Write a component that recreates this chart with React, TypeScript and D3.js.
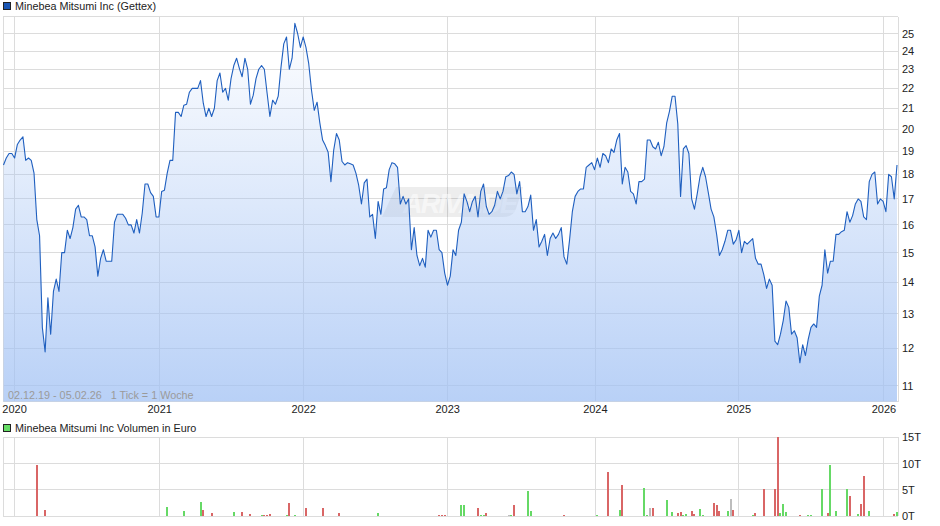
import { useEffect, useRef } from 'react'
import * as d3 from 'd3'

const priceTicks = [11, 12, 13, 14, 15, 16, 17, 18, 19, 20, 21, 22, 23, 24, 25]
const volumeTicks = [0, 5, 10, 15]
const yearLabels = ['2020', '2021', '2022', '2023', '2024', '2025', '2026']
// week index of each 1 January, counted from the first tick
const yearWeeks = [4, 56.3, 108.2, 160.1, 213.3, 265, 317.3]

// weekly closes, 02.12.19 - 05.02.26
const prices = [
  18.4, 18.7, 18.9, 18.9, 18.7, 19.3, 19.5, 19.65, 18.6, 18.7, 18.6, 18.05, 16.2, 15.6, 12.6, 11.9, 13.5, 12.4, 13.7, 14.1,
  13.7, 15.0, 15.0, 15.8, 15.5, 15.9, 16.6, 16.75, 16.3, 16.3, 16.2, 15.6, 15.6, 15.2, 14.2, 14.8, 15.1, 14.7, 14.7, 14.7,
  16.1, 16.4, 16.4, 16.4, 16.25, 16.0, 16.0, 15.7, 16.2, 15.7, 16.45, 17.6, 17.6, 17.25, 17.1, 16.3, 16.3, 17.3, 17.35, 18.05,
  18.6, 18.6, 20.8, 20.8, 20.6, 21.15, 21.2, 21.8, 22.0, 22.0, 22.0, 22.4, 21.25, 20.6, 21.0, 20.6, 21.0, 22.4, 22.8, 21.8,
  22.0, 21.4, 22.5, 23.2, 23.6, 23.05, 22.6, 23.6, 23.0, 21.2, 21.65, 22.5, 23.0, 23.2, 23.0, 21.75, 20.6, 21.4, 21.2, 21.6,
  23.1, 24.4, 24.8, 23.0, 23.6, 25.6, 25.0, 24.2, 24.8, 24.2, 23.3, 21.9, 20.9, 21.3, 20.3, 19.5, 19.25, 18.95, 17.7, 19.05,
  19.8, 19.5, 18.55, 18.4, 18.5, 18.45, 18.4, 18.05, 17.55, 16.8, 17.65, 17.8, 16.3, 16.4, 15.5, 16.9, 16.4, 17.4, 17.45, 18.2,
  18.5, 18.45, 18.3, 16.8, 17.1, 16.8, 17.0, 15.1, 15.9, 14.9, 14.55, 14.8, 14.5, 15.8, 15.55, 15.8, 15.8, 15.1, 15.0, 14.3,
  13.9, 14.2, 15.1, 14.9, 15.8, 16.1, 17.2, 16.9, 16.5, 16.9, 17.1, 16.3, 17.3, 17.6, 16.7, 16.4, 16.5, 16.75, 17.3, 17.0,
  17.3, 17.9, 17.95, 18.1, 18.0, 17.2, 17.7, 16.5, 16.5, 16.7, 17.15, 15.8, 16.2, 15.2, 15.4, 15.65, 14.9, 15.5, 15.7, 15.5,
  15.65, 15.9, 14.85, 14.6, 15.45, 16.5, 17.1, 17.3, 17.4, 17.4, 18.3, 18.4, 18.5, 18.2, 18.7, 18.3, 18.9, 18.8, 18.5, 19.1,
  18.95, 19.5, 19.8, 17.6, 18.3, 18.1, 17.3, 17.2, 16.8, 17.7, 17.7, 17.8, 19.5, 19.5, 19.2, 19.1, 19.4, 18.8, 19.2, 20.3,
  20.85, 21.6, 21.6, 20.25, 17.1, 19.1, 19.25, 18.9, 17.0, 16.6, 17.2, 17.9, 18.3, 17.9, 17.25, 16.6, 16.3, 15.65, 14.9, 15.1,
  15.4, 15.8, 15.8, 15.3, 15.45, 15.8, 15.0, 15.4, 15.3, 15.4, 15.5, 14.8, 14.6, 14.6, 14.25, 13.8, 14.1, 13.9, 12.2, 12.1,
  12.4, 12.8, 13.4, 13.2, 12.4, 12.5, 12.3, 11.6, 12.1, 11.8, 12.25, 12.6, 12.7, 12.6, 13.55, 13.9, 15.1, 14.3, 14.7, 14.7,
  15.65, 15.65, 15.75, 15.8, 16.5, 16.1, 16.35, 16.8, 17.0, 16.9, 16.3, 16.2, 17.7, 18.0, 18.1, 16.8, 17.0, 16.9, 16.5, 18.0,
  17.9, 17.0, 18.4,
]

// volume in thousand euro, only the weeks that traded
const upWeeks = [59, 65, 71, 83, 93, 102, 105, 135, 140, 162, 165, 166, 172, 173, 183, 189, 190, 197, 198, 206, 207, 211, 214, 222, 229, 231, 232, 239, 241, 245, 246, 250, 251, 252, 261, 267, 270, 276, 280, 281, 282, 290, 291, 294, 295, 296, 298, 300, 304, 308, 312, 313, 322]
const upVolumes = [1.8, 1.0, 2.7, 0.8, 0.25, 0.25, 0.25, 0.6, 0.1, 0.1, 2.15, 2.15, 0.25, 0.25, 0.25, 4.8, 1.0, 0.1, 0.1, 0.1, 0.1, 0.1, 0.25, 1.2, 0.1, 5.4, 0.25, 3.1, 0.8, 0.25, 0.45, 0.1, 1.4, 0.25, 1.0, 0.1, 0.25, 0.1, 0.6, 2.3, 0.8, 0.25, 0.25, 0.1, 5.2, 0.1, 9.75, 1.0, 5.2, 0.45, 1.0, 0.1, 0.8]
const downWeeks = [12, 15, 72, 75, 86, 89, 94, 95, 96, 103, 109, 115, 121, 142, 150, 157, 158, 159, 171, 174, 175, 184, 202, 213, 218, 223, 234, 243, 244, 248, 249, 255, 256, 257, 258, 263, 266, 271, 274, 278, 279, 286, 287, 297, 305, 309, 310, 311, 318, 320, 321]
const downVolumes = [9.75, 1.2, 1.2, 0.6, 0.8, 0.45, 0.25, 0.25, 0.45, 2.5, 1.6, 1.6, 0.6, 0.1, 0.1, 0.25, 0.25, 0.25, 1.6, 0.6, 0.1, 2.15, 0.25, 0.1, 8.4, 5.95, 1.6, 0.6, 0.8, 1.0, 0.45, 0.1, 2.5, 2.15, 1.0, 1.2, 0.1, 0.6, 5.2, 5.2, 15, 0.1, 0.25, 0.6, 3.85, 2.35, 7.65, 0.1, 0.1, 0.1, 0.45]
const flatWeeks = [182, 233, 262]
const flatVolumes = [0.25, 1.6, 3.3]

const font = '"Liberation Sans", Arial, sans-serif'
const gridColor = '#dcdcdc'

export default function App() {
  const ref = useRef<SVGSVGElement>(null)

  useEffect(() => {
    if (!ref.current) return
    const svg = d3.select(ref.current)
    svg.selectAll('*').remove()

    const left = 3
    const right = 898
    const x = d3.scaleLinear().domain([0, prices.length - 1]).range([3.5, 897])
    const y = d3.scaleLog().domain([11, 25]).range([385.6, 33.5])
    const yV = d3.scaleLinear().domain([0, 15]).range([516.3, 437.3])
    const top = 16.5
    const bottom = 401.5

    const defs = svg.append('defs')
    const grad = defs.append('linearGradient')
      .attr('id', 'areaFill').attr('gradientUnits', 'userSpaceOnUse')
      .attr('x1', 0).attr('x2', 0).attr('y1', top).attr('y2', bottom)
    grad.append('stop').attr('offset', 0).attr('stop-color', '#a1c1f4').attr('stop-opacity', 0)
    grad.append('stop').attr('offset', 1).attr('stop-color', '#a1c1f4').attr('stop-opacity', 0.75)

    // title rows
    const legend = (ty: number, color: string, label: string) => {
      svg.append('rect').attr('x', 3.5).attr('y', ty - 4).attr('width', 7).attr('height', 7)
        .attr('fill', color).attr('stroke', '#222')
      svg.append('text').attr('x', 15).attr('y', ty + 3).attr('font-size', 10.8).attr('font-family', font)
        .attr('fill', '#222').text(label)
    }
    legend(6.5, '#1a56b4', 'Minebea Mitsumi Inc (Gettex)')
    legend(428.5, '#66dd66', 'Minebea Mitsumi Inc Volumen in Euro')

    // price grid
    const grid = svg.append('g').attr('stroke', gridColor).attr('fill', 'none').attr('shape-rendering', 'crispEdges')
    priceTicks.forEach(t => grid.append('line').attr('x1', left).attr('x2', right).attr('y1', y(t)).attr('y2', y(t)))
    grid.append('line').attr('x1', left).attr('x2', right).attr('y1', top).attr('y2', top)
    grid.append('line').attr('x1', left).attr('x2', right).attr('y1', bottom).attr('y2', bottom)
    grid.append('line').attr('x1', left).attr('x2', left).attr('y1', top).attr('y2', bottom)
    grid.append('line').attr('x1', right).attr('x2', right).attr('y1', top).attr('y2', bottom)
    yearWeeks.forEach(w => grid.append('line').attr('x1', x(w)).attr('x2', x(w)).attr('y1', top).attr('y2', bottom))

    // watermark
    const mark = svg.append('g')
    mark.append('path')
      .attr('d', 'M396,187 H523 L516,209 Q513,217 503,217 H382 Z')
      .attr('fill', '#000').attr('fill-opacity', 0.07)
    mark.append('text').attr('x', 403).attr('y', 213).attr('font-size', 27).attr('font-style', 'italic').attr('font-weight', 'bold')
      .attr('font-family', font).attr('fill', '#fff').attr('fill-opacity', 0.55).attr('textLength', 115).text('ARIVA.DE')

    const points = prices.map((p, i) => [i, p] as [number, number])
    const area = d3.area<[number, number]>().x(d => x(d[0])).y0(bottom).y1(d => y(d[1]))
    svg.append('path').datum(points).attr('fill', 'url(#areaFill)').attr('d', area)
    const line = d3.line<[number, number]>().x(d => x(d[0])).y(d => y(d[1]))
    svg.append('path').datum(points).attr('fill', 'none').attr('stroke', '#1f5fbf').attr('stroke-width', 1.1)
      .attr('stroke-linejoin', 'round').attr('d', line)

    svg.append('text').attr('x', 8).attr('y', 399).attr('font-size', 10.8).attr('font-family', font)
      .attr('fill', '#9a9a9a').attr('xml:space', 'preserve').text('02.12.19 - 05.02.26   1 Tick = 1 Woche')

    // price axis
    const axisText = svg.append('g').attr('font-size', 11).attr('font-family', font).attr('fill', '#222')
    priceTicks.forEach(t => axisText.append('text').attr('x', 902).attr('y', y(t) + 4).text(t))
    yearLabels.forEach((l, i) => axisText.append('text').attr('x', x(yearWeeks[i])).attr('y', 413)
      .attr('text-anchor', 'middle').text(l))

    // volume panel
    const vGrid = svg.append('g').attr('stroke', gridColor).attr('fill', 'none').attr('shape-rendering', 'crispEdges')
    volumeTicks.forEach(t => vGrid.append('line').attr('x1', left).attr('x2', right).attr('y1', yV(t)).attr('y2', yV(t)))
    vGrid.append('line').attr('x1', left).attr('x2', left).attr('y1', yV(15)).attr('y2', yV(0))
    vGrid.append('line').attr('x1', right).attr('x2', right).attr('y1', yV(15)).attr('y2', yV(0))
    yearWeeks.forEach(w => vGrid.append('line').attr('x1', x(w)).attr('x2', x(w)).attr('y1', yV(15)).attr('y2', yV(0)))

    const bars = (weeks: number[], vols: number[], color: string) => {
      svg.append('g').attr('fill', color).attr('shape-rendering', 'crispEdges')
        .selectAll('rect').data(weeks).join('rect')
        .attr('x', d => x(d) - 1)
        .attr('width', 2)
        .attr('y', (_, i) => yV(vols[i]))
        .attr('height', (_, i) => yV(0) - yV(vols[i]))
    }
    bars(upWeeks, upVolumes, '#66d966')
    bars(downWeeks, downVolumes, '#d96666')
    bars(flatWeeks, flatVolumes, '#bdbdbd')

    volumeTicks.forEach(t => axisText.append('text').attr('x', 902).attr('y', yV(t) + 4).text(`${t}T`))
  }, [])

  return <svg ref={ref} width={940} height={526} style={{ position: 'absolute', left: 0, top: 0 }} />
}
